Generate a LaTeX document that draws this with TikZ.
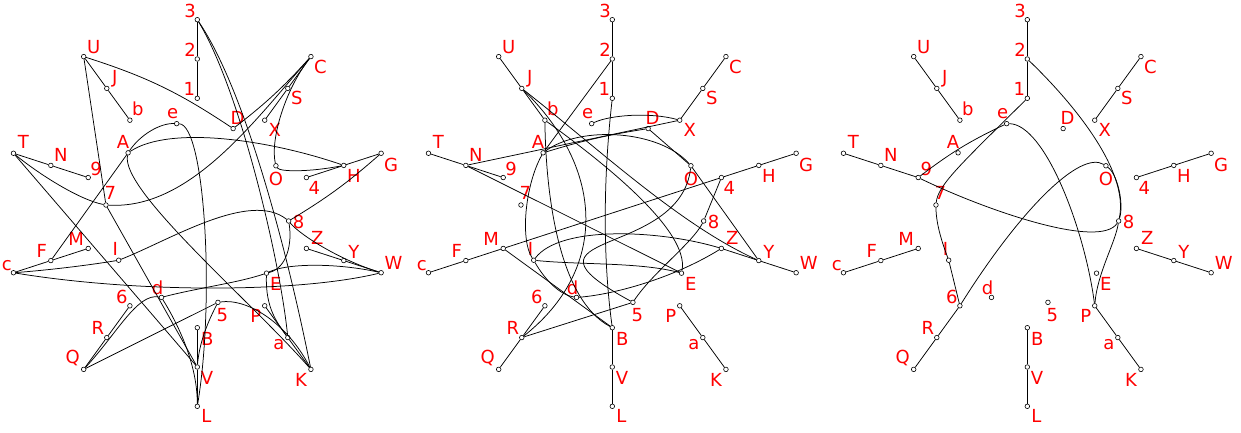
\documentclass[tikz,border=0pt]{standalone}
\usepackage{fontspec}
\setsansfont{DejaVu Sans}
\usetikzlibrary{positioning}

% the 40 vertices of one panel, #1 = prefix of the names
\newcommand{\placevertices}[1]{%
  \foreach \nm/\ang/\rad/\dx/\dy in {
      3/90/193.3/-7.3/9, 2/90/154/-7.3/9, 1/90/114.7/-8/9,
      C/54/193.3/9.5/-10, S/54/154/9/-10, X/54/114.7/10/-10,
      G/18/193.3/10/-12, H/18/154/10/-11, 4/18/114.7/8/-10,
      W/-18/193.3/12.5/10, Y/-18/154/10/9, Z/-18/114.7/11/11,
      K/-54/193.3/-10/-11, a/-54/154/-9/-7, P/-54/114.7/-9/-10,
      L/-90/193.3/9/-10, V/-90/154/9.7/-11, B/-90/114.7/10/-11,
      Q/-126/193.3/-11/11, R/-126/154/-9/10, 6/-126/114.7/-8/9,
      c/-162/193.3/-6.6/7, F/-162/154/-9/10, M/-162/114.7/-12/10,
      T/162/193.3/10/11, N/162/154/10/10, 9/162/114.7/8/9,
      U/126/193.3/10/10, J/126/154/8/10, b/126/114.7/8/11,
      e/103/91.7/-4/10, D/67/91.7/4.5/11, O/31/91.7/0/-13,
      8/-5/91.7/10/-1, E/-41/91.7/9.3/-11, 5/-77/91.7/4.5/-12.7,
      d/-113/91.7/-4/10, I/-149/91.7/-3.3/11.7, 7/175/91.7/4.5/12,
      A/139/91.7/-5/11}
  {
    \node[vtx, label={[lbl, xshift=\dx pt, yshift=\dy pt]center:\nm}] (#1\nm) at (\ang:\rad pt) {};
  }%
}
% the ten arms
\newcommand{\drawarms}[1]{%
  \foreach \o/\m/\i in {3/2/1, C/S/X, G/H/4, W/Y/Z, K/a/P, L/V/B, Q/R/6, c/F/M, T/N/9, U/J/b}
    \draw[edge] (#1\o) -- (#1\m) -- (#1\i);%
}

\begin{document}
\begin{tikzpicture}[
    x=1pt, y=1pt,
    vtx/.style={circle, draw, fill=white, inner sep=0pt, minimum size=4.6pt, line width=0.6pt},
    lbl/.style={text=red, font=\sffamily\fontsize{18}{18}\selectfont, inner sep=0pt},
    edge/.style={line width=0.75pt}
]
    \useasboundingbox (0,0) rectangle (1241,433);

    % left panel
    \begin{scope}[shift={(197.3,220)}]
        \placevertices{l-}
        \drawarms{l-}
        \draw[edge] (l-T) -- (l-V);
        \draw[edge] (l-T) .. controls (-157.3,38) and (-117.3,13) .. (l-7);
        \draw[edge] (l-7) .. controls (-7.3,3) and (57.7,93) .. (l-C);
        \draw[edge] (l-U) to[bend left=8] (l-D);
        \draw[edge] (l-U) -- (l-7) -- (l-V);
        \draw[edge] (l-3) .. controls (42.7,123) and (82.7,-47) .. (l-a);
        \draw[edge] (l-3) .. controls (47.7,123) and (89.7,-37) .. (l-K);
        \draw[edge] (l-C) to[bend left=5] (l-D);
        \draw[edge] (l-C) .. controls (87.7,123) and (72.7,73) .. (l-O);
        \draw[edge] (l-O) .. controls (82.7,41) and (112.7,41) .. (l-H);
        \draw[edge] (l-A) .. controls (-27.3,88) and (72.7,73) .. (l-H);
        \draw[edge] (l-A) .. controls (-57.3,78) and (-37.3,90) .. (l-e);
        \draw[edge] (l-e) .. controls (7.7,88) and (17.7,-87) .. (l-L);
        \draw[edge] (l-A) .. controls (-77.3,23) and (52.7,-87) .. (l-K);
        \draw[edge] (l-F) -- (l-A);
        \draw[edge] (l-c) .. controls (-147.3,-57) and (-107.3,-52) .. (l-I);
        \draw[edge] (l-I) .. controls (-27.3,-27) and (52.7,23) .. (l-8);
        \draw[edge] (l-c) .. controls (-60,-80) and (100,-80) .. (l-W);
        \draw[edge] (l-E) .. controls (90,-50) and (140,-50) .. (l-W);
        \draw[edge] (l-8) .. controls (102.7,-22) and (142.7,-47) .. (l-W);
        \draw[edge] (l-G) to[bend left=5] (l-8);
        \draw[edge] (l-8) .. controls (95,-30) and (90,-55) .. (l-E);
        \draw[edge] (l-d) .. controls (0,-75) and (40,-70) .. (l-E);
        \draw[edge] (l-Q) -- (l-5);
        \draw[edge] (l-Q) .. controls (-80,-120) and (-60,-80) .. (l-d);
        \draw[edge] (l-d) .. controls (-20,-110) and (0,-150) .. (l-L);
        \draw[edge] (l-5) .. controls (50,-85) and (90,-110) .. (l-K);
        \draw[edge] (l-5) .. controls (10,-110) and (2,-130) .. (l-V);
        \draw[edge] (l-E) .. controls (68,-95) and (80,-110) .. (l-a);
    \end{scope}

    % middle panel
    \begin{scope}[shift={(612.3,220)}]
        \placevertices{m-}
        \drawarms{m-}
        \draw[edge] (m-1) .. controls (-9.3,33) and (-9.3,-47) .. (m-B);
        \draw[edge] (m-2) -- (m-A);
        \draw[edge] (m-J) .. controls (-6.7,43) and (-4.7,-57) .. (m-R);
        \draw[edge] (m-J) .. controls (-12.3,63) and (67.7,-12) .. (m-Y);
        \draw[edge] (m-N) -- (m-X);
        \draw[edge] (m-N) -- (m-E);
        \draw[edge] (m-A) .. controls (-87.3,28) and (-92.3,-27) .. (m-I);
        \draw[edge] (m-A) .. controls (-32.3,88) and (47.7,83) .. (m-O);
        \draw[edge] (m-A) to[bend left=4] (m-D);
        \draw[edge] (m-e) .. controls (-2.3,98) and (37.7,101) .. (m-X);
        \draw[edge] (m-D) -- (m-O) -- (m-Y);
        \draw[edge] (m-O) .. controls (67.7,-47) and (-112.3,-17) .. (m-5);
        \draw[edge] (m-M) -- (m-B);
        \draw[edge] (m-M) -- (m-4);
        \draw[edge] (m-R) -- (m-5);
        \draw[edge] (m-4) -- (m-8);
        \draw[edge] (m-I) .. controls (-52.3,-12) and (47.7,-17) .. (m-Z);
        \draw[edge] (m-I) .. controls (-67.3,-67) and (-52.3,-82) .. (m-d);
        \draw[edge] (m-I) .. controls (-32.3,-52) and (27.7,-49) .. (m-E);
        \draw[edge] (m-d) .. controls (-2.3,-82) and (57.7,-67) .. (m-Z);
        \draw[edge] (m-5) .. controls (40,-60) and (80,-30) .. (m-8);
        \draw[edge] (m-b) .. controls (-12.3,53) and (77.7,-17) .. (m-E);
        \draw[edge] (m-b) .. controls (-66.3,13) and (-52.3,-87) .. (m-B);
    \end{scope}

    % right panel
    \begin{scope}[shift={(1027.3,220)}]
        \placevertices{r-}
        \drawarms{r-}
        \draw[edge] (r-9) to[bend left=6] (r-e);
        \draw[edge] (r-e) .. controls (17.7,89) and (57.7,-17) .. (r-P);
        \draw[edge] (r-2) .. controls (42.7,113) and (102.7,43) .. (r-8);
        \draw[edge] (r-6) .. controls (-7.3,3) and (52.7,63) .. (r-O);
        \draw[edge] (r-O) .. controls (90.7,38) and (96.7,8) .. (r-8);
        \draw[edge] (r-9) .. controls (-42.3,3) and (72.7,-37) .. (r-8);
        \draw[edge] (r-1) .. controls (-67.3,48) and (-89.3,28) .. (r-7);
        \draw[edge] (r-7) .. controls (-91.3,-12) and (-84.3,-32) .. (r-I);
        \draw[edge] (r-I) -- (r-6);
        \draw[edge] (r-8) .. controls (88,-30) and (70,-60) .. (r-P);
    \end{scope}
\end{tikzpicture}
\end{document}
